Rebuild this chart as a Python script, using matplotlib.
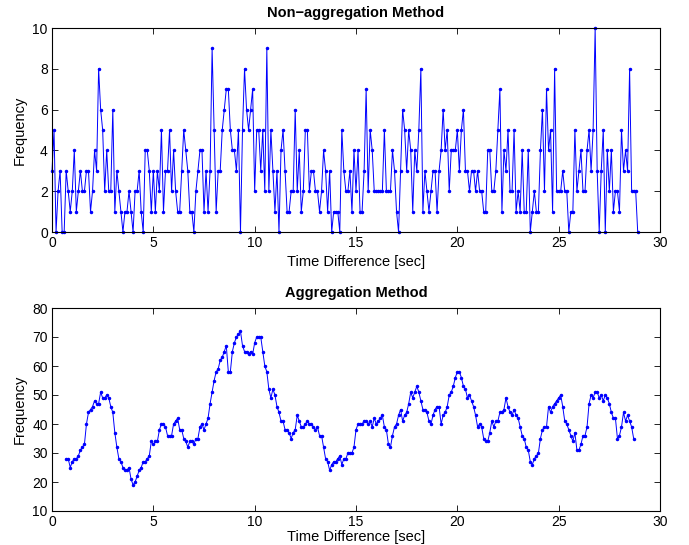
import numpy as np
import matplotlib
matplotlib.use("Agg")
import matplotlib.pyplot as plt

plt.rcParams['font.family'] = ['Liberation Sans', 'DejaVu Sans']

# ---- data: top panel (non-aggregation), sampled every 0.1 s starting at 0 ----
top_start = 0.0
top_step = 0.1
top_counts = [
    3, 5, 0, 2, 3, 0, 0, 3, 2, 1, 2, 4, 1, 2, 3, 2, 2, 3, 3, 1, 2, 4, 3, 8, 6, 5, 2, 4, 2, 2,
    6, 1, 3, 2, 1, 0, 1, 1, 2, 1, 0, 2, 2, 3, 1, 0, 4, 4, 3, 1, 3,
    1, 3, 2, 5, 1, 3, 3, 5, 2, 4, 2, 1, 1, 3, 5, 4, 3, 1, 1, 0, 2, 3, 4, 4, 1, 3, 1, 3, 9, 5,
    1, 3, 3, 5, 6, 7, 7, 5, 4, 4, 3, 5, 0, 5, 8, 6, 5, 6, 7, 2, 5,
    5, 3, 5, 2, 9, 2, 5, 3, 1, 3, 0, 4, 5, 3, 1, 1, 2, 2, 6, 2, 4, 1, 2, 5, 5, 2, 3, 3, 2, 2,
    1, 2, 4, 3, 1, 3, 0, 1, 1, 1, 0, 5, 3, 2, 2, 3, 1,
    4, 2, 4, 1, 1, 3, 7, 2, 5, 4, 2, 2, 2, 2, 2, 5, 2, 2, 2, 4, 3, 1, 0, 3, 6, 5, 3, 5, 4, 1,
    4, 3, 5, 8, 1, 3, 2, 1, 2, 3, 3, 1, 3, 4, 6, 4, 5, 2, 4, 4, 4,
    5, 3, 5, 6, 3, 3, 2, 3, 3, 2, 3, 2, 2, 1, 1, 4, 4, 2, 2, 3, 5, 7, 1, 4, 3, 5, 2, 2, 5, 1,
    2, 1, 4, 1, 1, 4, 0, 1, 2, 1, 1, 4, 6, 2, 7, 4, 5, 1, 8,
    2, 2, 2, 3, 2, 2, 0, 1, 1, 5, 2, 3, 4, 2, 2, 4, 5, 3, 5, 10, 3, 0, 3, 5, 0, 4, 2, 4, 1, 2,
    2, 1, 5, 3, 4, 3, 8, 2, 2, 2, 0,
]

# ---- data: bottom panel (aggregation), sampled every 0.1 s starting at 0.7 ----
bot_start = 0.7
bot_step = 0.1
bot_counts = [
    28, 28, 25, 27, 28, 28, 29, 31, 32, 33, 40, 44, 45, 46, 48, 47, 47, 51, 49, 49,
    50, 49, 46, 44, 37, 32, 28, 27, 25, 24, 24, 25, 21, 19, 20, 22, 24, 25, 27, 27,
    28, 29, 34, 33,
    34, 34, 38, 40, 40, 39, 36, 36, 36, 40, 41, 42, 38, 38, 35, 34, 32, 34, 34, 33,
    35, 35, 39, 40, 38, 40, 42, 47, 51, 55, 58, 59, 62, 63, 65, 67, 58, 58, 65, 68,
    70, 71, 72, 67, 65, 65, 64, 65, 64, 68, 70,
    70, 70, 65, 60, 58, 52, 49, 52, 50, 46, 44, 41, 41, 38, 38, 37, 35, 37, 38, 43,
    41, 39, 39, 40, 41, 40, 40, 39, 38, 39, 36, 36, 32, 28, 27, 24, 26, 27, 27, 28,
    29, 26, 28, 28, 30, 30, 30, 32, 38, 40,
    40, 40, 41, 41, 40, 41, 39, 42, 40, 41, 42, 43, 39, 38, 33, 32, 36, 39, 40, 43,
    45, 41, 43, 44, 47, 51, 49, 51, 53, 51, 48, 45, 45, 44, 41, 40, 43, 45, 46, 46,
    40, 43, 44, 46, 50, 51, 53, 56, 58, 58,
    56, 53, 52, 49, 50, 48, 46, 43, 39, 40, 39, 35, 34, 34, 37, 41, 39, 41, 41, 44,
    44, 45, 49, 46, 44, 43, 45, 43, 42, 39, 36, 35, 32, 31, 27, 26, 28, 29, 30, 35,
    38, 39, 39, 46, 44, 46, 47, 48, 49, 50,
    46, 41, 40, 38, 36, 34, 37, 31, 31, 33, 36, 36, 39, 47, 50, 49, 51, 51, 49, 50,
    48, 50, 49, 47, 44, 42, 42, 35, 36, 39, 44, 41, 43, 41, 39, 35,
]

top_title = "Non\u2212aggregation Method"
bot_title = "Aggregation Method"
x_label = "Time Difference [sec]"
y_label = "Frequency"
x_ticks = [0, 5, 10, 15, 20, 25, 30]
top_yticks = [0, 2, 4, 6, 8, 10]
bot_yticks = [10, 20, 30, 40, 50, 60, 70, 80]

top_x = top_start + top_step * np.arange(len(top_counts))
bot_x = bot_start + bot_step * np.arange(len(bot_counts))

W, H = 689, 545
fig = plt.figure(figsize=(W / 100, H / 100), dpi=100)

def px_axes(left, top, right, bottom):
    return fig.add_axes([left / W, 1 - bottom / H, (right - left) / W, (bottom - top) / H])

ax1 = px_axes(52, 28, 660, 232)
ax2 = px_axes(52, 308, 660, 511)

for ax, x, y, title, yt, lp in [(ax1, top_x, top_counts, top_title, top_yticks, 3.5),
                                 (ax2, bot_x, bot_counts, bot_title, bot_yticks, 0.5)]:
    ax.plot(x, y, color='#0000ff', linewidth=0.7, marker='.', markersize=3.0,
            clip_on=False)
    ax.set_xlim(0, 30)
    ax.set_ylim(yt[0], yt[-1])
    ax.set_xticks(x_ticks)
    ax.set_yticks(yt)
    ax.tick_params(direction='in', top=True, right=True, length=4, width=0.6,
                   labelsize=10, pad=3)
    for s in ax.spines.values():
        s.set_linewidth(0.8)
    ax.set_title(title, fontsize=10.5, fontweight='bold', pad=8)
    ax.set_xlabel(x_label, fontsize=10.5, labelpad=lp)
    ax.set_ylabel(y_label, fontsize=10.5, labelpad=4)

fig.savefig("out.png", dpi=100)
